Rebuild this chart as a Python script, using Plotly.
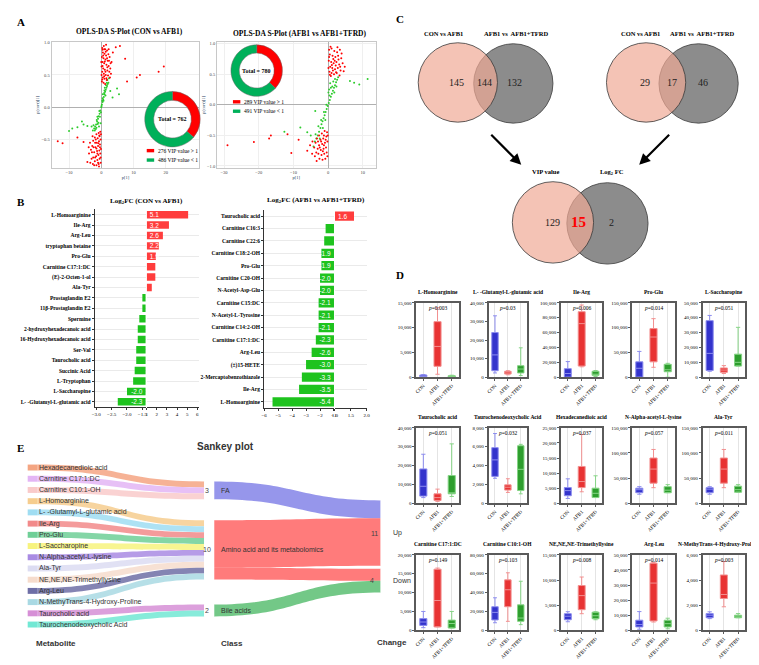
import plotly.graph_objects as go

W, H = 759, 665
def fx(p): return p / W
def fy(p): return 1 - p / H

SERIF = "Liberation Serif, 'Times New Roman', serif"
SANS = "Liberation Sans, Arial, sans-serif"

# ====================== DATA ======================
# ---- Panel A: OPLS-DA S-plot points (p[1], p(corr)[1]) ----
splot1_red = [(0.3,0.92),(0.8,0.95),(1.2,0.9),(1.8,0.88),(0.5,0.85),(1.0,0.83),(1.5,0.8),(2.2,0.82),(0.2,0.78),
              (0.7,0.76),(1.3,0.74),(2.0,0.72),(2.6,0.78),(0.4,0.7),(0.9,0.68),(1.6,0.66),(2.3,0.64),(0.1,0.63),
              (0.6,0.6),(1.1,0.58),(1.9,0.57),(2.8,0.6),(0.3,0.55),(0.8,0.52),(1.4,0.5),(2.1,0.49),(0.5,0.46),
              (1.0,0.44),(1.7,0.42),(0.2,0.4),(0.7,0.38),(1.2,0.36),(3.2,0.7),(3.6,0.85),(4.5,0.93),(5.8,0.95),
              (7.4,0.75),(8.0,0.4),(11.0,0.46),(12.0,0.5),(17.8,0.55),(19.4,0.63),(0.1,0.5),(2.5,0.55),(1.5,0.97),
              (0.4,0.89),(1.4,0.86),(2.4,0.72),(0.0,0.7),(1.9,0.62),(0.4,0.64),(1.3,0.55),(2.9,0.68),(0.9,0.48),
              (1.6,0.45),(0.3,0.43),(2.3,0.9),(1.1,0.71),(0.6,0.8),(1.8,0.76),(3.0,0.52),(0.9,0.9),(2.7,0.46),
              (-0.3,-0.38),(-0.8,-0.4),(-1.5,-0.42),(-0.5,-0.45),(-1.1,-0.48),(-2.0,-0.47),(-0.2,-0.5),(-0.7,-0.53),
              (-1.4,-0.55),(-2.5,-0.52),(-0.4,-0.58),(-1.0,-0.6),(-1.8,-0.62),(-2.8,-0.6),(-0.1,-0.65),(-0.6,-0.67),
              (-1.3,-0.68),(-2.2,-0.7),(-3.2,-0.66),(-0.3,-0.72),(-0.9,-0.74),(-1.6,-0.76),(-2.5,-0.78),(-0.5,-0.8),
              (-1.2,-0.82),(-2.0,-0.84),(-3.0,-0.8),(-0.2,-0.86),(-0.8,-0.88),(-1.5,-0.9),(-3.5,-0.55),(-4.3,-0.85),
              (-5.5,-0.54),(-7.4,-0.47),(-12.0,-0.56),(-13.5,-0.53),(-0.1,-0.42),(-1.9,-0.55),(-2.6,-0.88),(-3.8,-0.72),
              (-0.6,-0.44),(-1.7,-0.5),(-2.4,-0.62),(-0.9,-0.56),(-1.2,-0.72),(-2.9,-0.7),(-0.4,-0.62),(-1.9,-0.78),
              (-0.2,-0.78),(-1.0,-0.86),(-2.2,-0.9),(-3.4,-0.86),(-1.5,-0.64),(-0.7,-0.92),(-2.7,-0.45),(-3.9,-0.62)]
splot1_green = [(-2.6,-0.36),(-2.2,-0.33),(-1.9,-0.3),(-1.6,-0.27),(-1.3,-0.22),(-1.0,-0.18),(-0.8,-0.14),(-0.5,-0.1),
                (-0.3,-0.05),(0.0,0.0),(0.2,0.04),(0.4,0.08),(0.6,0.12),(0.8,0.16),(1.0,0.2),(1.2,0.24),(1.4,0.27),
                (1.6,0.3),(1.8,0.33),(2.0,0.36),(-2.0,-0.36),(-1.5,-0.32),(-0.9,-0.24),(-0.4,-0.15),(0.3,0.1),
                (0.9,0.22),(1.5,0.34),(2.2,0.38),(0.5,0.2),(1.1,0.3),(-1.2,-0.15),(-0.6,-0.06),(0.1,0.02),(0.7,0.1),
                (1.3,0.18),(-3.0,-0.3),(-4.3,-0.29),(-5.5,-0.27),(-7.4,-0.31),(-10.0,-0.37),(-9.0,-0.33),(-6.0,-0.22),
                (2.8,0.25),(4.9,0.29),(5.5,0.2),(3.5,0.15),(1.9,0.42),(2.4,0.45),(-0.2,-0.25),(-0.7,-0.3),
                (-1.4,-0.2),(-1.1,-0.26),(-0.1,-0.08),(0.4,0.14),(1.0,0.26),(1.7,0.38),(-1.7,-0.34),(-2.4,-0.28)]
splot2_red = [(0.3,0.9),(1.0,0.92),(1.8,0.88),(2.6,0.86),(3.4,0.9),(0.5,0.82),(1.3,0.8),(2.1,0.78),(2.9,0.8),(3.8,0.76),
              (0.2,0.72),(0.9,0.7),(1.6,0.68),(2.4,0.7),(3.2,0.66),(4.2,0.68),(0.6,0.62),(1.2,0.6),(2.0,0.58),(2.8,0.6),
              (3.6,0.56),(0.4,0.54),(1.0,0.52),(1.7,0.5),(2.5,0.52),(3.3,0.48),(4.5,0.55),(0.8,0.47),(1.4,0.56),
              (2.2,0.64),(0.1,0.6),(3.0,0.74),(1.9,0.72),(4.8,0.62),(0.7,0.95),(1.5,0.75),(2.7,0.94),(0.3,0.78),
              (3.9,0.84),(1.1,0.65),(2.3,0.53),(0.5,0.49),(3.5,0.62),
              (-0.3,-0.45),(-1.0,-0.43),(-1.8,-0.47),(-2.6,-0.5),(-0.5,-0.52),(-1.4,-0.55),(-2.2,-0.57),(-3.2,-0.55),
              (-0.2,-0.6),(-0.9,-0.62),(-1.7,-0.64),(-2.6,-0.66),(-3.6,-0.62),(-4.5,-0.6),(-0.6,-0.7),(-1.3,-0.72),
              (-2.1,-0.74),(-3.0,-0.72),(-4.0,-0.7),(-5.2,-0.66),(-0.4,-0.78),(-1.1,-0.8),(-1.9,-0.82),(-2.8,-0.8),
              (-3.8,-0.84),(-0.8,-0.88),(-1.6,-0.9),(-2.5,-0.88),(-3.3,-0.92),(-6.0,-0.75),(-0.1,-0.5),(-1.2,-0.66),
              (-2.0,-0.6),(-29.0,-0.66),(-21.4,-0.61),(-17.0,-0.55),(-16.5,-0.5),(-11.7,-0.48),(-10.6,-0.79),(-8.5,-0.57),
              (-0.7,-0.57),(-1.5,-0.76),(-2.4,-0.7),(-3.4,-0.78),(-4.6,-0.8),(-0.2,-0.84),(-1.2,-0.5),(-2.9,-0.6)]
splot2_green = [(-4.2,-0.68),(-3.8,-0.6),(-3.4,-0.55),(-3.0,-0.5),(-2.6,-0.44),(-2.2,-0.38),(-1.9,-0.32),(-1.6,-0.27),
                (-1.3,-0.22),(-1.0,-0.17),(-0.7,-0.12),(-0.4,-0.07),(-0.1,-0.02),(0.2,0.03),(0.5,0.08),(0.8,0.13),
                (1.1,0.18),(1.4,0.23),(1.7,0.28),(2.0,0.32),(2.3,0.37),(2.6,0.41),(2.9,0.45),(-3.6,-0.48),(-2.8,-0.35),
                (-2.0,-0.25),(-1.2,-0.12),(-0.5,0.0),(0.4,0.15),(1.2,0.3),(2.0,0.42),(0.1,0.2),(0.8,0.28),(1.5,0.38),
                (-0.8,-0.25),(-1.5,-0.38),(-2.4,-0.55),(6.3,0.39),(9.0,0.33),(11.4,0.42),(7.5,0.36),(-12.6,-0.44),
                (-8.0,-0.37),(-3.7,-0.1),(-6.0,-0.45),(-5.0,-0.5),(0.6,0.35),(1.8,0.2),(0.3,0.25),(2.4,0.3)]
donut1_values = [276, 486]
donut2_values = [289, 491]
vip_labels = ["VIP value > 1", "VIP value < 1"]

# ---- Panel B: Log2FC ----
fc1_names = ["L-Homoarginine", "Ile-Arg", "Arg-Leu", "tryptophan betaine", "Pro-Glu", "Carnitine C17:1:DC",
             "(E)-2-Octen-1-ol", "Ala-Tyr", "Prostaglandin E2", "11β-Prostaglandin E2", "Spermine",
             "2-hydroxyhexadecanoic acid", "16-Hydroxyhexadecanoic acid", "Ser-Val", "Taurocholic acid",
             "Succinic Acid", "L-Tryptophan", "L-Saccharopine", "L- -Glutamyl-L-glutamic acid"]
fc1_values = [5.1, 3.2, 2.6, 2.2, 1.9, 1.85, 1.85, 1.5, -1.5, -1.5, -1.6, -1.65, -1.65, -1.7, -1.7, -1.75, -1.8, -2.0, -2.3]
fc1_shown = [True, True, True, True, True, False, False, False, False, False, False, False, False, False, False,
             False, False, True, True]
fc2_names = ["Taurocholic acid", "Carnitine C16:3", "Carnitine C22:6", "Carnitine C18:2-OH", "Pro-Glu",
             "Carnitine C20-OH", "N-Acetyl-Asp-Glu", "Carnitine C15:DC", "N-Acetyl-L-Tyrosine", "Carnitine C14:2-OH",
             "Carnitine C17:1:DC", "Arg-Leu", "(±)15-HETE", "2-Mercaptobenzothiazole", "Ile-Arg", "L-Homoarginine"]
fc2_values = [1.6, -1.6, -1.7, -1.9, -1.9, -2.0, -2.0, -2.1, -2.1, -2.1, -2.3, -2.6, -3.0, -3.3, -3.5, -5.4]
fc2_shown = [True, False, False] + [True] * 13

# ---- Panel C: Venn counts (only A, A∩B, only B) ----
venn1_sets = ["CON vs AFB1", "AFB1 vs  AFB1+TFRD"]
venn1_counts = [145, 144, 132]
venn2_sets = ["CON vs AFB1", "AFB1 vs  AFB1+TFRD"]
venn2_counts = [29, 17, 46]
venn3_sets = ["VIP value", "Log<sub>2</sub> FC"]
venn3_counts = [129, 15, 2]

# ---- Panel D: box plots (lower whisker, Q1, median, Q3, upper whisker) for CON, AFB1, AFB1+TFRD ----
groups = ["CON", "AFB1", "AFB1+TFRD"]
box_titles = ["L-Homoarginine", "L- -Glutamyl-L-glutamic acid", "Ile-Arg", "Pro-Glu", "L-Saccharopine",
              "Taurocholic acid", "Taurochenodeoxycholic Acid", "Hexadecanedioic acid", "N-Alpha-acetyl-L-lysine", "Ala-Tyr",
              "Carnitine C17:1:DC", "Carnitine C10:1-OH", "NE,NE,NE-Trimethyllysine", "Arg-Leu", "N-MethyTrans-4-Hydroxy-Proline"]
box_p = ["0.003", "0.03", "0.006", "0.014", "0.051",
         "0.051", "0.032", "0.037", "0.057", "0.011",
         "0.149", "0.103", "0.008", "0.014", "0.003"]
box_ymax = [15000, 40000, 100000, 150000, 50000,
            40000, 8000, 25000, 150000, 150000,
            20000, 80000, 15000, 50000, 6000]
box_dtick = [5000, 10000, 20000, 50000, 10000,
             10000, 2000, 5000, 50000, 50000,
             5000, 20000, 5000, 10000, 2000]
box_stats = [
    [(0, 100, 250, 450, 550), (600, 2200, 6200, 11200, 14000), (0, 50, 150, 300, 400)],
    [(2300, 3500, 12000, 24000, 33000), (1300, 1700, 2300, 3200, 3500), (900, 2300, 4400, 6200, 15800)],
    [(0, 0, 5000, 11500, 21000), (14000, 15000, 72000, 88000, 97000), (1000, 2500, 4000, 8000, 9000)],
    [(0, 0, 18000, 31000, 52000), (20000, 31000, 81000, 98000, 118000), (0, 11000, 15000, 26000, 28000)],
    [(4000, 4500, 16000, 38000, 41500), (2500, 3300, 4800, 6200, 7800), (7500, 7500, 10000, 15500, 33500)],
    [(3000, 3800, 9000, 18200, 26000), (1000, 1500, 3000, 5000, 7500), (3600, 5000, 5500, 14700, 31500)],
    [(2650, 2850, 4600, 5900, 7400), (1150, 1400, 1700, 1950, 2600), (1000, 1350, 3600, 6100, 6250)],
    [(1600, 2500, 4200, 5200, 8100), (3800, 5200, 7200, 12200, 22800), (1900, 1900, 3300, 5000, 9100)],
    [(18000, 21000, 27000, 30000, 33000), (31000, 40000, 68000, 90000, 107000), (21000, 21000, 26000, 33000, 37000)],
    [(18000, 21000, 28000, 31000, 33000), (31000, 40000, 68000, 90000, 107000), (22000, 22000, 27000, 34000, 37000)],
    [(700, 1300, 2200, 3100, 5000), (900, 900, 7900, 16200, 16500), (600, 600, 1800, 2700, 5000)],
    [(8000, 11000, 19000, 25000, 34500), (9500, 25000, 43000, 53500, 61000), (6000, 9500, 13000, 27000, 52000)],
    [(1700, 2100, 2800, 3300, 3700), (3300, 4100, 6900, 8900, 10600), (2100, 2300, 2900, 3600, 3700)],
    [(700, 2200, 3800, 6700, 12400), (5500, 6200, 31300, 44500, 45000), (1000, 2200, 4400, 6700, 8000)],
    [(930, 1000, 1200, 1330, 1470), (1870, 2530, 2850, 4400, 5470), (1000, 1000, 1120, 1200, 1330)],
]

# ---- Panel E: Sankey ----
metabolites = ["Hexadecanedioic acid", "Carnitine C17:1:DC", "Carnitine C10:1-OH", "L-Homoarginine",
               "L- -Glutamyl-L-glutamic acid", "Ile-Arg", "Pro-Glu", "L-Saccharopine", "N-Alpha-acetyl-L-lysine",
               "Ala-Tyr", "NE,NE,NE-Trimethyllysine", "Arg-Leu", "N-MethyTrans-4-Hydroxy-Proline",
               "Taurocholic acid", "Taurochenodeoxycholic Acid"]
metab_class = ["FA", "FA", "FA", "Amino acid and its metabolomics", "Amino acid and its metabolomics",
               "Amino acid and its metabolomics", "Amino acid and its metabolomics", "Amino acid and its metabolomics",
               "Amino acid and its metabolomics", "Amino acid and its metabolomics", "Amino acid and its metabolomics",
               "Amino acid and its metabolomics", "Amino acid and its metabolomics", "Bile acids", "Bile acids"]
metab_change = ["Up", "Up", "Up", "Up", "Down", "Up", "Up", "Down", "Up", "Up", "Up", "Up", "Up", "Down", "Down"]
classes = ["FA", "Amino acid and its metabolomics", "Bile acids"]
changes = ["Up", "Down"]

# ====================== STYLE ======================
RED = "#FF0000"
GREEN_PT = "#2DCB2D"
DONUT_GREEN = "#00B05A"
BAR_RED = "#FF3D3D"
BAR_GREEN = "#1EC31E"
BOX_FILL = ["#3333CC", "#E83333", "#2E9E2E"]
BOX_LINE = ["#8C8CEE", "#F29090", "#86D486"]
MET_COLORS = ["rgba(244,165,130,0.85)", "rgba(227,181,245,0.85)", "rgba(249,202,202,0.85)", "rgba(246,205,142,0.85)",
              "rgba(159,221,242,0.85)", "rgba(242,138,138,0.85)", "rgba(111,207,151,0.85)", "rgba(247,243,126,0.85)",
              "rgba(169,139,227,0.85)", "rgba(220,220,242,0.85)", "rgba(246,220,205,0.85)", "rgba(110,110,166,0.85)",
              "rgba(169,217,227,0.85)", "rgba(214,143,214,0.85)", "rgba(114,232,212,0.85)"]
CLASS_COLORS = {"FA": "rgba(100,100,225,0.68)", "Amino acid and its metabolomics": "rgba(255,60,60,0.68)",
                "Bile acids": "rgba(40,170,70,0.65)"}

fig = go.Figure()
layout = {}
ann = []
shapes = []
axn = [0]

def new_axes(xd, yd):
    axn[0] += 1
    n = axn[0]
    xa = 'xaxis' if n == 1 else f'xaxis{n}'
    ya = 'yaxis' if n == 1 else f'yaxis{n}'
    xr = 'x' if n == 1 else f'x{n}'
    yr = 'y' if n == 1 else f'y{n}'
    layout[xa] = dict(domain=[fx(xd[0]), fx(xd[1])], anchor=yr)
    layout[ya] = dict(domain=[fy(yd[1]), fy(yd[0])], anchor=xr)
    return xr, yr, xa, ya

def text(x, y, s, size=7, color="#000", bold=False, family=SERIF, xanchor="center", yanchor="middle", **kw):
    ann.append(dict(x=fx(x), y=fy(y), xref="paper", yref="paper", text=(f"<b>{s}</b>" if bold else s),
                    showarrow=False, font=dict(size=size, color=color, family=family),
                    xanchor=xanchor, yanchor=yanchor, **kw))

def rect(x0, y0, x1, y1, fill, line=None, lw=0):
    shapes.append(dict(type="rect", xref="paper", yref="paper", x0=fx(x0), x1=fx(x1), y0=fy(y1), y1=fy(y0),
                       fillcolor=fill, line=dict(width=lw, color=line or fill)))

# ---- Panel letters ----
for lab, x, y in [("A", 10, 12), ("B", 10, 193), ("C", 393, 9), ("D", 393, 267), ("E", 10, 441)]:
    text(x, y, lab, size=11, bold=True)

# ====================== PANEL A ======================
def splot(xd, yd, red, green, xr_, yr_, xticks, title, tx, ty):
    xr, yr, xa, ya = new_axes(xd, yd)
    fig.add_trace(go.Scatter(x=[p[0] for p in green], y=[p[1] for p in green], mode="markers",
                             marker=dict(size=2, color=GREEN_PT), xaxis=xr, yaxis=yr, showlegend=False, hoverinfo="skip"))
    fig.add_trace(go.Scatter(x=[p[0] for p in red], y=[p[1] for p in red], mode="markers",
                             marker=dict(size=2, color=RED), xaxis=xr, yaxis=yr, showlegend=False, hoverinfo="skip"))
    common = dict(showgrid=True, gridcolor="#EFEFEF", zeroline=True, zerolinecolor="#B0B0B0", zerolinewidth=1,
                  showline=True, mirror=True, linecolor="#C8C8C8", linewidth=1, ticks="",
                  tickfont=dict(size=4.5, family=SERIF, color="#444"))
    layout[xa].update(range=xr_, tickvals=xticks, **common,
                      title=dict(text="p[1]", font=dict(size=4.5, family=SERIF), standoff=1))
    layout[ya].update(range=yr_, tickvals=[-1.0, -0.5, 0.0, 0.5, 1.0], tickformat=".1f", **common,
                      title=dict(text="p(corr)[1]", font=dict(size=4.5, family=SERIF), standoff=1))
    text(tx, ty, title, size=7.5, bold=True)

splot((41, 190), (32, 159), splot1_red, splot1_green, [-15.4, 30.4], [-0.94, 1.015], [-10, 0, 10, 20],
      "OPLS-DA S-Plot (CON vs AFB1)", 120, 22)
splot((208, 368), (32, 159), splot2_red, splot2_green, [-32, 13.7], [-1.03, 1.03], [-30, -20, -10, 0, 10],
      "OPLS-DA S-Plot (AFB1 vs AFB1+TFRD)", 292, 24)

def donut(vals, cx, cy, r, legx, legy):
    fig.add_trace(go.Pie(values=vals, labels=vip_labels, hole=0.68, sort=False, direction="clockwise",
                         marker=dict(colors=[RED, DONUT_GREEN], line=dict(color="#666", width=0.5)),
                         textinfo="none", showlegend=False, hoverinfo="skip",
                         domain=dict(x=[fx(cx - r), fx(cx + r)], y=[fy(cy + r), fy(cy - r)])))
    text(cx, cy, f"Total = {sum(vals)}", size=6, bold=True)
    for k, (v, lab, col) in enumerate(zip(vals, vip_labels, [RED, DONUT_GREEN])):
        yy = legy + k * 9.5
        rect(legx, yy - 1.7, legx + 7.5, yy + 1.7, col)
        text(legx + 9.5, yy, f"{v} {lab}", size=5.5, xanchor="left")

donut(donut1_values, 163, 110, 28, 137, 141.7)
donut(donut2_values, 248, 61, 26, 224, 92.5)

# ====================== PANEL B ======================
def fcplot(names, values, shown, neg_dom, pos_dom, neg_range, pos_range, neg_ticks, pos_ticks, tickfmt_neg,
           tickfmt_pos, yd, title, tx, ty, bw):
    n = len(names)
    xr1, yr1, xa1, ya1 = new_axes(neg_dom, yd)
    xr2, yr2, xa2, ya2 = new_axes(pos_dom, yd)
    nbase = neg_range[1]
    pbase = pos_range[0]
    labels = [f"{v:.1f}" if s else "" for v, s in zip(values, shown)]
    fig.add_trace(go.Bar(orientation="h", y=names, x=[(v - nbase) if v < 0 else 0 for v in values],
                         base=[nbase] * n, text=[l if v < 0 else "" for l, v in zip(labels, values)],
                         textposition="inside", insidetextanchor="start", constraintext="none",
                         textfont=dict(color="white", size=6.5, family=SANS), width=bw,
                         marker=dict(color=BAR_GREEN, line=dict(width=0)),
                         xaxis=xr1, yaxis=yr1, showlegend=False, hoverinfo="skip"))
    fig.add_trace(go.Bar(orientation="h", y=names, x=[(v - pbase) if v > 0 else 0 for v in values],
                         base=[pbase] * n, text=[l if v > 0 else "" for l, v in zip(labels, values)],
                         textposition="inside", insidetextanchor="start", constraintext="none",
                         textfont=dict(color="white", size=6.5, family=SANS), width=bw,
                         marker=dict(color=BAR_RED, line=dict(width=0)), cliponaxis=False,
                         xaxis=xr2, yaxis=yr2, showlegend=False, hoverinfo="skip"))
    xcommon = dict(showline=True, linecolor="#333", linewidth=1, ticks="outside", ticklen=2, tickcolor="#333",
                   showgrid=False, zeroline=False, tickfont=dict(size=5, family=SERIF, color="#000"))
    layout[xa1].update(range=neg_range, tickvals=neg_ticks, tickformat=tickfmt_neg, **xcommon)
    layout[xa2].update(range=pos_range, tickvals=pos_ticks, tickformat=tickfmt_pos, **xcommon)
    ycommon = dict(type="category", categoryorder="array", categoryarray=names, range=[n - 0.5, -0.5],
                   showgrid=True, gridcolor="#EAEAEA", gridwidth=1)
    layout[ya1].update(**ycommon, showline=True, linecolor="#333", linewidth=1, ticks="outside", ticklen=2,
                       tickcolor="#333", tickfont=dict(size=5.5, family=SERIF, color="#000"),
                       tickvals=names, ticktext=[f"<b>{nm}</b>" for nm in names])
    layout[ya2].update(**ycommon, showticklabels=False, ticks="", showline=False, matches=yr1)
    text(tx, ty, title, size=7, bold=True)

fcplot(fc1_names, fc1_values, fc1_shown, (84.5, 136), (137, 190), [-3.05, -1.39], [1, 6.2],
       [-3.0, -2.5, -2.0, -1.5], [1, 2, 3, 4, 5, 6], ".1f", "d", (201, 400),
       "Log<sub>2</sub>FC (CON vs AFB1)", 137, 192, 0.72)
fcplot(fc2_names, fc2_values, fc2_shown, (255.5, 326), (327, 359), [-6.0, -1.0], [1.0, 2.0],
       [-6, -5, -4, -3, -2, -1], [1.0, 1.5, 2.0], "d", ".1f", (201.5, 401),
       "Log<sub>2</sub>FC (AFB1 vs AFB1+TFRD)", 308, 191, 0.75)

# ====================== PANEL C ======================
PINK = "rgba(239,169,149,0.7)"
GREY = "#8C8C8C"
def venn(sets, counts, c1, c2, r, ty, tx1, tx2, nx, red_mid=False):
    shapes.append(dict(type="circle", xref="paper", yref="paper", x0=fx(c2[0] - r), x1=fx(c2[0] + r),
                       y0=fy(c2[1] + r), y1=fy(c2[1] - r), fillcolor=GREY, line=dict(color="#3A3A3A", width=0.8)))
    shapes.append(dict(type="circle", xref="paper", yref="paper", x0=fx(c1[0] - r), x1=fx(c1[0] + r),
                       y0=fy(c1[1] + r), y1=fy(c1[1] - r), fillcolor=PINK, line=dict(color="#3A3A3A", width=0.8)))
    text(tx1, ty, sets[0], size=6.5, bold=True)
    text(tx2, ty, sets[1], size=6.5, bold=True)
    for k, (cnt, x) in enumerate(zip(counts, nx)):
        if red_mid and k == 1:
            text(x, c1[1], str(cnt), size=15, bold=True, color="#FF0000")
        else:
            text(x, c1[1], str(cnt), size=10, color="#222")

venn(venn1_sets, venn1_counts, (451, 73), (507, 74), 40, 24, 437, 510, [450, 478, 508])
venn(venn2_sets, venn2_counts, (641, 73), (694, 74), 40, 24, 635, 698, [640, 667, 698])
venn(venn3_sets, venn3_counts, (547, 214), (602, 215), 41, 163, 539, 607, [547, 573, 606], red_mid=True)
for (x0, y0, x1, y1) in [(482, 123, 515, 156), (667, 123, 634, 156)]:
    ann.append(dict(x=fx(x1), y=fy(y1), xref="paper", yref="paper", ax=x0 - x1, ay=y0 - y1, axref="pixel",
                    ayref="pixel", showarrow=True, arrowhead=2, arrowsize=1, arrowwidth=2.2, arrowcolor="#000", text=" "))

# ====================== PANEL D ======================
col_x = [(409, 452), (482, 521), (555, 597), (627, 670), (698, 741)]
row_y = [(295, 370), (421, 497), (549, 625)]
title_y = [284, 410, 538]
for i in range(15):
    row, col = divmod(i, 5)
    xd, yd = col_x[col], row_y[row]
    xr, yr, xa, ya = new_axes(xd, yd)
    for g, gname in enumerate(groups):
        lf, q1, med, q3, uf = box_stats[i][g]
        fig.add_trace(go.Box(x=[gname], q1=[q1], median=[med], q3=[q3], lowerfence=[lf], upperfence=[uf],
                             fillcolor=BOX_FILL[g], line=dict(color=BOX_LINE[g], width=1), width=0.5,
                             whiskerwidth=0.6, boxpoints=False, xaxis=xr, yaxis=yr, showlegend=False,
                             hoverinfo="skip"))
    frame = dict(showline=True, mirror=True, linecolor="#5A5A5A", linewidth=1.5, ticks="outside", ticklen=2,
                 tickcolor="#5A5A5A", tickfont=dict(size=5, family=SERIF, color="#000"), zeroline=False)
    layout[xa].update(type="category", categoryorder="array", categoryarray=groups, range=[-0.5, 2.5],
                      tickangle=-45, showgrid=True, gridcolor="#E4E4E4", **frame)
    layout[ya].update(range=[0, box_ymax[i]], dtick=box_dtick[i], tickformat=",d", showgrid=False, **frame)
    cx = (xd[0] + xd[1]) / 2
    est_half = len(box_titles[i]) * 5.5 * 0.27
    if cx + est_half > 756:
        text(757, title_y[row], box_titles[i], size=5.5, bold=True, xanchor="right")
    else:
        text(cx, title_y[row], box_titles[i], size=5.5, bold=True)
    text(cx, yd[0] + 5, f"<i>p</i>={box_p[i]}", size=5.5)

# ====================== PANEL E ======================
n_m = len(metabolites)
node_colors = [c.replace("0.85", "1") for c in MET_COLORS] + ["white"] * (len(classes) + len(changes))
src, tgt, val, lcol = [], [], [], []
for k, (m, c) in enumerate(zip(metabolites, metab_class)):
    src.append(k)
    tgt.append(n_m + classes.index(c))
    val.append(1)
    lcol.append(MET_COLORS[k])
for c in classes:
    for ch in changes:
        cnt = sum(1 for mc, mch in zip(metab_class, metab_change) if mc == c and mch == ch)
        if cnt:
            src.append(n_m + classes.index(c))
            tgt.append(n_m + len(classes) + changes.index(ch))
            val.append(cnt)
            lcol.append(CLASS_COLORS[c])

SK_TOP, SK_BOT, SK_L, SK_R = 455, 625, 16, 384
met_centers = [461 + k * 11.3 for k in range(n_m)]
class_centers = [484, 544, 605]
change_centers = [527, 575]
ys = [(c - SK_TOP) / (SK_BOT - SK_TOP) for c in met_centers + class_centers + change_centers]
xs = [0.016] * n_m + [0.5] * len(classes) + [0.984] * len(changes)
fig.add_trace(go.Sankey(
    arrangement="fixed",
    domain=dict(x=[fx(SK_L), fx(SK_R)], y=[fy(SK_BOT), fy(SK_TOP)]),
    node=dict(label=[""] * (n_m + len(classes) + len(changes)), x=xs, y=ys, pad=5.7, thickness=10,
              color=node_colors, line=dict(width=0)),
    link=dict(source=src, target=tgt, value=val, color=lcol),
    hoverinfo="skip"))

for m, c in zip(metabolites, met_centers):
    text(26, c, m, size=7, color="#333", family=SANS, xanchor="left")
class_counts = [metab_class.count(c) for c in classes]
for c, cnt, cy in zip(classes, class_counts, class_centers):
    text(198, cy, str(cnt), size=7, color="#444", family=SANS)
    text(210, cy, c, size=7, color="#333", family=SANS, xanchor="left")
change_counts = [metab_change.count(ch) for ch in changes]
for ch, cnt, cy, nx in zip(changes, change_counts, change_centers, [367, 364]):
    text(nx, cy, str(cnt), size=7, color="#444", family=SANS)
    text(384, cy, ch, size=7, color="#333", family=SANS, xanchor="left")
text(186, 440, "Sankey plot", size=10, bold=True, color="#333", family=SANS, xanchor="left")
text(23, 638, "Metabolite", size=8, bold=True, color="#333", family=SANS, xanchor="left")
text(210, 638, "Class", size=8, bold=True, color="#333", family=SANS, xanchor="left")
text(367, 637, "Change", size=8, bold=True, color="#333", family=SANS, xanchor="left")

fig.update_layout(layout)
fig.update_layout(width=W, height=H, margin=dict(l=0, r=0, t=0, b=0), autosize=False,
                  paper_bgcolor="white", plot_bgcolor="white", annotations=ann, shapes=shapes,
                  barmode="overlay", boxmode="overlay", font=dict(family=SERIF))
fig.write_html("out.html")
